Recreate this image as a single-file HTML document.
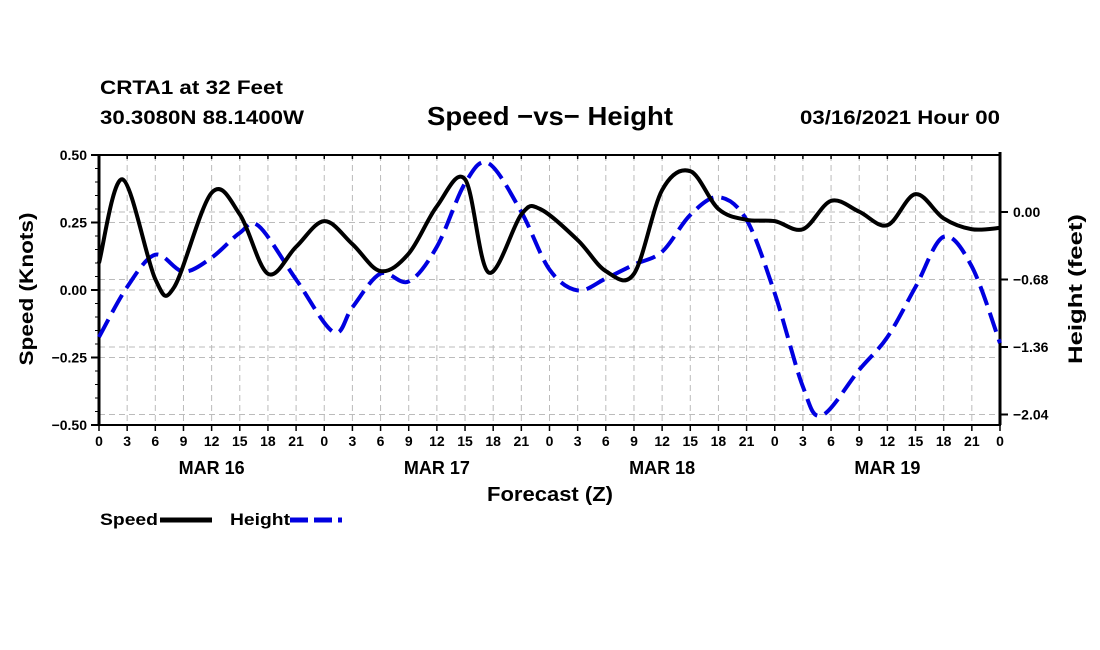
<!DOCTYPE html>
<html><head><meta charset="utf-8"><style>
body{margin:0;background:#fff}
svg{display:block;font-family:"Liberation Sans",sans-serif;font-weight:bold}
</style></head><body>
<svg id="chart" width="1100" height="650" viewBox="0 0 1100 650">
<text x="100" y="94" font-size="19" textLength="183" lengthAdjust="spacingAndGlyphs">CRTA1 at 32 Feet</text>
<text x="100" y="124" font-size="19" textLength="204" lengthAdjust="spacingAndGlyphs">30.3080N 88.1400W</text>
<text x="427" y="125" font-size="26" textLength="246" lengthAdjust="spacingAndGlyphs">Speed −vs− Height</text>
<text x="800" y="124" font-size="19" textLength="200" lengthAdjust="spacingAndGlyphs">03/16/2021 Hour 00</text>
<g id="grid"></g><g id="axes"></g><g id="series"></g>
<text transform="translate(33,289) rotate(-90)" font-size="19" text-anchor="middle" textLength="153" lengthAdjust="spacingAndGlyphs">Speed (Knots)</text>
<text transform="translate(1082,289) rotate(-90)" font-size="19" text-anchor="middle" textLength="150" lengthAdjust="spacingAndGlyphs">Height (feet)</text>
<text x="487" y="501" font-size="20" textLength="126" lengthAdjust="spacingAndGlyphs">Forecast (Z)</text>
<g>
<text x="100" y="525" font-size="17" textLength="58" lengthAdjust="spacingAndGlyphs">Speed</text>
<line x1="160" y1="520" x2="212" y2="520" stroke="#000" stroke-width="5"/>
<text x="230" y="525" font-size="17" textLength="60" lengthAdjust="spacingAndGlyphs">Height</text>
<line x1="290" y1="520" x2="342" y2="520" stroke="#0000e0" stroke-width="5" stroke-dasharray="18,6"/>
</g>
</svg>
<script>
const speedHours=[0,2.5,6,8,12,15,18,21,24,27,30,33,36,39,41.5,45,47,51,54,57,60,63,66,69,72,75,78,81,84,87,90,93,96];
const speedVals=[0.10,0.41,0.04,0.01,0.36,0.28,0.06,0.16,0.255,0.17,0.07,0.135,0.31,0.41,0.065,0.28,0.30,0.185,0.07,0.06,0.37,0.44,0.30,0.26,0.255,0.225,0.33,0.29,0.24,0.355,0.265,0.225,0.23];
const heightHours=[0,3,6,9,12,15,17,21,25,27,30,33,36,39,41.5,45,48,51,54,57,60,63,66,69,72,75,77,81,84,87,90,93,96];
const heightVals=[-1.26,-0.755,-0.43,-0.60,-0.46,-0.21,-0.14,-0.68,-1.21,-0.96,-0.62,-0.70,-0.35,0.29,0.49,0.0,-0.58,-0.79,-0.67,-0.53,-0.40,-0.03,0.15,-0.08,-0.82,-1.76,-2.05,-1.59,-1.26,-0.755,-0.25,-0.55,-1.32];
const leftTicks=[0.5,0.25,0,-0.25,-0.5];
const leftLabels=["0.50","0.25","0.00","\u22120.25","\u22120.50"];
const rightTicks=[0,-0.68,-1.36,-2.04];
const rightLabels=["0.00","\u22120.68","\u22121.36","\u22122.04"];
const hourLabels=["0","3","6","9","12","15","18","21"];
const dayLabels=["MAR 16","MAR 17","MAR 18","MAR 19"];
const X0=99,X1=1000,YT=155,YB=425;
const xs=h=>X0+h*(X1-X0)/96;
const yL=v=>290-v*270;
const yR=f=>212-f*(67.5/0.68);
const NS="http://www.w3.org/2000/svg";
function mk(tag,attrs,parent){const e=document.createElementNS(NS,tag);for(const k in attrs)e.setAttribute(k,attrs[k]);parent.appendChild(e);return e;}
const grid=document.getElementById('grid'),axes=document.getElementById('axes'),ser=document.getElementById('series');
for(let h=3;h<96;h+=3){const l=mk('line',{x1:xs(h),x2:xs(h),y1:YT,y2:YB,stroke:'#bbb','stroke-width':1,'stroke-dasharray':'6,4'},grid);

}
leftTicks.forEach((v,i)=>{const y=yL(v);
if(i>0&&i<4){const g=mk('line',{x1:X0,x2:X1,y1:y,y2:y,stroke:'#bbb','stroke-width':1,'stroke-dasharray':'6,4'},grid);

}
mk('line',{x1:X0-8,x2:X0,y1:y,y2:y,stroke:'#000','stroke-width':2},axes);
const t=mk('text',{x:X0-12,y:y+5,'font-size':14,'text-anchor':'end'},axes);t.textContent=leftLabels[i];

});
for(let k=0;k<20;k++){const v=0.5-k*0.05;mk('line',{x1:X0-4,x2:X0,y1:yL(v),y2:yL(v),stroke:'#000','stroke-width':1},axes);}
rightTicks.forEach((f,i)=>{const y=yR(f);
const g=mk('line',{x1:X0,x2:X1,y1:y,y2:y,stroke:'#bbb','stroke-width':1,'stroke-dasharray':'6,4'},grid);


mk('line',{x1:X1,x2:X1+8,y1:y,y2:y,stroke:'#000','stroke-width':2},axes);
const t=mk('text',{x:X1+13,y:y+5,'font-size':14},axes);t.textContent=rightLabels[i];

});
mk('rect',{x:X0,y:YT,width:X1-X0,height:YB-YT,fill:'none',stroke:'#000','stroke-width':2},axes);
mk('line',{x1:X0,x2:X0,y1:YT,y2:YB,stroke:'#000','stroke-width':3},axes);
mk('line',{x1:X1,x2:X1,y1:YT-3,y2:YB,stroke:'#000','stroke-width':3},axes);
for(let h=0;h<=96;h+=3){mk('line',{x1:xs(h),x2:xs(h),y1:YB,y2:YB+6,stroke:'#000','stroke-width':1.5},axes);
mk('line',{x1:xs(h),x2:xs(h),y1:YT,y2:YT+4,stroke:'#000','stroke-width':1.5},axes);
const t=mk('text',{x:xs(h),y:YB+21,'font-size':14,'text-anchor':'middle'},axes);t.textContent=hourLabels[(h/3)%8];

}
dayLabels.forEach((d,i)=>{const t=mk('text',{x:xs(i*24+12),y:YB+49,'font-size':18,'text-anchor':'middle'},axes);t.textContent=d;

});
function path(hs,vs,fy){const p=hs.map((h,i)=>[xs(h),fy(vs[i])]);let d=`M${p[0][0]},${p[0][1]}`;
for(let i=0;i<p.length-1;i++){const a=p[Math.max(i-1,0)],b=p[i],c=p[i+1],e=p[Math.min(i+2,p.length-1)];
d+=` C${b[0]+(c[0]-a[0])/6},${b[1]+(c[1]-a[1])/6} ${c[0]-(e[0]-b[0])/6},${c[1]-(e[1]-b[1])/6} ${c[0]},${c[1]}`;}return d;}
const hp=mk('path',{d:path(heightHours,heightVals,yR),fill:'none',stroke:'#0000e0','stroke-width':4,'stroke-dasharray':'20,8'},ser);


const sp=mk('path',{d:path(speedHours,speedVals,yL),fill:'none',stroke:'#000','stroke-width':4},ser);


</script>
</body></html>
